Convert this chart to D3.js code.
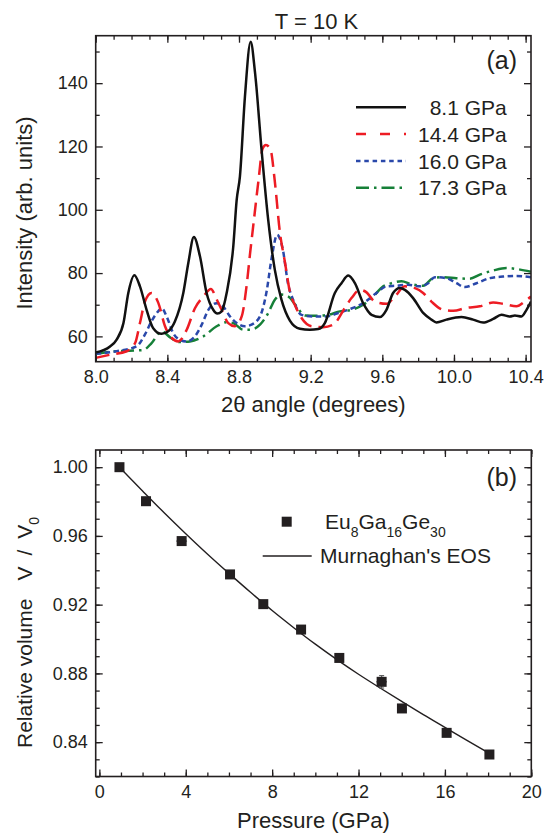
<!DOCTYPE html>
<html>
<head>
<meta charset="utf-8">
<script src="https://cdn.jsdelivr.net/npm/d3@7"></script>
<style>
  html, body { margin: 0; padding: 0; background: #fff; }
  svg { display: block; font-family: "Liberation Sans", Arial, Helvetica, sans-serif; }
  .axis text { font-size: 18px; fill: #231f20; }
  .axis line { stroke: #231f20; stroke-width: 1.3; }
  .axis path { display: none; }
</style>
</head>
<body>
<svg id="fig" width="548" height="836"></svg>
<script>
// ---------- Panel (a): diffraction profiles at T = 10 K ----------
const seriesLabels = ["8.1 GPa", "14.4 GPa", "16.0 GPa", "17.3 GPa"];

const angle81 = [8.000, 8.080, 8.117, 8.155, 8.182, 8.216, 8.247, 8.284, 8.321, 8.368, 8.405, 8.442, 8.489, 8.517, 8.548, 8.582, 8.619, 8.656, 8.679, 8.703, 8.731, 8.768, 8.787, 8.805, 8.833, 8.865, 8.889, 8.926, 8.963, 9.000, 9.037, 9.084, 9.140, 9.195, 9.242, 9.279, 9.335, 9.372, 9.410, 9.447, 9.493, 9.540, 9.586, 9.623, 9.660, 9.698, 9.726, 9.772, 9.828, 9.874, 9.902, 9.958, 10.042, 10.107, 10.163, 10.219, 10.265, 10.312, 10.340, 10.377, 10.405, 10.430];
const intensity81 = [54.9, 56.8, 59.0, 64.2, 73.7, 79.3, 75.8, 68.4, 62.6, 60.8, 61.6, 64.7, 73.7, 83.2, 91.4, 85.3, 73.7, 68.4, 67.2, 67.9, 73.7, 88.4, 103.1, 110.5, 135.7, 153.1, 143.6, 118.9, 96.8, 81.0, 71.6, 65.0, 62.4, 62.1, 62.3, 64.2, 73.7, 76.8, 79.2, 76.8, 70.5, 66.8, 66.1, 68.4, 73.7, 75.3, 74.7, 72.1, 67.4, 65.3, 64.4, 65.3, 66.1, 65.3, 64.4, 65.5, 66.8, 66.3, 66.6, 66.3, 68.4, 71.0];

const angle144 = [8.000, 8.080, 8.173, 8.220, 8.247, 8.275, 8.312, 8.350, 8.387, 8.424, 8.461, 8.508, 8.554, 8.601, 8.643, 8.675, 8.703, 8.740, 8.777, 8.815, 8.843, 8.861, 8.880, 8.908, 8.932, 8.950, 8.976, 9.000, 9.028, 9.056, 9.084, 9.112, 9.149, 9.205, 9.270, 9.326, 9.391, 9.428, 9.475, 9.512, 9.558, 9.623, 9.670, 9.726, 9.763, 9.828, 9.874, 9.939, 9.995, 10.070, 10.144, 10.219, 10.274, 10.349, 10.395, 10.430];
const intensity144 = [53.2, 54.2, 55.3, 57.9, 64.2, 71.0, 73.7, 70.5, 63.2, 59.5, 58.4, 62.1, 68.9, 72.6, 75.0, 71.7, 68.4, 64.2, 63.2, 66.3, 76.3, 85.8, 95.2, 108.9, 119.4, 120.5, 119.0, 108.9, 93.0, 83.6, 74.1, 69.9, 65.8, 63.2, 62.9, 63.7, 69.0, 72.1, 74.7, 73.9, 71.0, 70.3, 72.6, 75.8, 75.6, 73.7, 71.0, 68.4, 68.1, 69.0, 69.5, 70.7, 70.3, 69.5, 71.0, 72.6];

const angle160 = [8.000, 8.117, 8.229, 8.275, 8.312, 8.350, 8.368, 8.396, 8.433, 8.470, 8.508, 8.554, 8.592, 8.629, 8.675, 8.712, 8.750, 8.787, 8.833, 8.870, 8.917, 8.954, 8.982, 9.013, 9.043, 9.075, 9.102, 9.149, 9.214, 9.288, 9.354, 9.419, 9.493, 9.567, 9.623, 9.679, 9.744, 9.809, 9.856, 9.893, 9.958, 10.014, 10.060, 10.126, 10.200, 10.274, 10.349, 10.430];
const intensity160 = [54.5, 55.3, 56.9, 60.6, 64.8, 68.0, 68.9, 66.3, 61.0, 58.9, 58.4, 60.0, 63.7, 68.4, 70.5, 69.4, 66.3, 64.2, 63.2, 63.7, 66.3, 74.2, 84.7, 92.1, 87.9, 76.3, 71.6, 66.8, 66.3, 66.3, 67.4, 68.6, 70.5, 73.7, 75.8, 76.0, 76.3, 75.8, 76.8, 78.7, 78.4, 76.8, 75.6, 76.8, 78.4, 78.9, 79.1, 78.7];

const angle173 = [8.000, 8.117, 8.266, 8.312, 8.368, 8.420, 8.470, 8.526, 8.601, 8.675, 8.731, 8.768, 8.824, 8.861, 8.917, 8.963, 9.000, 9.037, 9.075, 9.121, 9.168, 9.233, 9.298, 9.363, 9.428, 9.493, 9.549, 9.605, 9.651, 9.707, 9.763, 9.828, 9.884, 9.939, 10.014, 10.088, 10.144, 10.219, 10.293, 10.349, 10.430];
const intensity173 = [54.5, 55.3, 55.7, 57.9, 61.6, 59.5, 58.2, 58.4, 60.0, 63.2, 64.5, 64.2, 62.1, 62.1, 63.7, 67.4, 71.6, 73.2, 72.6, 69.5, 66.6, 66.5, 66.8, 67.9, 68.4, 70.0, 72.6, 75.8, 76.8, 77.4, 76.5, 76.0, 78.4, 78.7, 78.4, 78.2, 79.5, 80.8, 81.6, 81.3, 80.4];

const angleTicks = [8.0, 8.4, 8.8, 9.2, 9.6, 10.0, 10.4];
const intensityTicks = [60, 80, 100, 120, 140];

// ---------- Panel (b): compression curve ----------
const pressure = [0.93, 2.16, 3.81, 6.05, 7.59, 9.34, 11.11, 13.07, 14.01, 16.08, 18.06];
const relVolume = [1.000, 0.9802, 0.9570, 0.9376, 0.9203, 0.9055, 0.8890, 0.8751, 0.8596, 0.8454, 0.8328];
const pressureErr = [0, 0, 0.25, 0, 0, 0, 0, 0.25, 0, 0, 0];
const volumeErr = [0, 0, 0, 0, 0, 0, 0, 0.0036, 0, 0, 0];

const eosPressure = [0.93, 2, 3, 4, 5, 6, 7, 8, 9, 10, 11, 12, 13, 14, 15, 16, 17, 18.06];
const eosVolume = [1.000, 0.9862, 0.9735, 0.9613, 0.9495, 0.9382, 0.9272, 0.9166, 0.9066, 0.8970, 0.8880, 0.8795, 0.8715, 0.8637, 0.8560, 0.8486, 0.8412, 0.8335];

const pressureTicks = [0, 4, 8, 12, 16, 20];
const volumeTicks = [0.84, 0.88, 0.92, 0.96, 1.00];

// ---------- drawing ----------
const ink = "#231f20";
const svg = d3.select("#fig");

function frameAxes(g, x, y, w, h, xMajor, xMinor, yMajor, yMinor, xFmt, yFmt) {
  const big = 7, small = 4;
  g.append("g").attr("class", "axis").attr("transform", `translate(0,${h})`)
    .call(d3.axisBottom(x).tickValues(xMinor).tickSize(-small).tickFormat(""));
  g.append("g").attr("class", "axis").attr("transform", `translate(0,${h})`)
    .call(d3.axisBottom(x).tickValues(xMajor).tickSize(-big).tickPadding(9).tickFormat(xFmt));
  g.append("g").attr("class", "axis")
    .call(d3.axisTop(x).tickValues(xMinor).tickSize(-small).tickFormat(""));
  g.append("g").attr("class", "axis")
    .call(d3.axisTop(x).tickValues(xMajor).tickSize(-big).tickFormat(""));
  g.append("g").attr("class", "axis")
    .call(d3.axisLeft(y).tickValues(yMinor).tickSize(-small).tickFormat(""));
  g.append("g").attr("class", "axis")
    .call(d3.axisLeft(y).tickValues(yMajor).tickSize(-big).tickPadding(8).tickFormat(yFmt));
  g.append("g").attr("class", "axis").attr("transform", `translate(${w},0)`)
    .call(d3.axisRight(y).tickValues(yMinor).tickSize(-small).tickFormat(""));
  g.append("g").attr("class", "axis").attr("transform", `translate(${w},0)`)
    .call(d3.axisRight(y).tickValues(yMajor).tickSize(-big).tickFormat(""));
  g.append("rect").attr("width", w).attr("height", h)
    .attr("fill", "none").attr("stroke", ink).attr("stroke-width", 1.6);
}

// ----- panel (a) -----
const A = { left: 95.7, top: 35.7, right: 531, bottom: 361.7 };
const aw = A.right - A.left, ah = A.bottom - A.top;
const xa = d3.scaleLinear().domain([8.0, 10.43]).range([0, aw]);
const ya = d3.scaleLinear().domain([52, 155]).range([ah, 0]);
const ga = svg.append("g").attr("transform", `translate(${A.left},${A.top})`);

ga.append("clipPath").attr("id", "clipA").append("rect").attr("width", aw).attr("height", ah);

const profiles = [
  { label: seriesLabels[0], xs: angle81, ys: intensity81, color: "#111111", dash: null, legendDash: null },
  { label: seriesLabels[1], xs: angle144, ys: intensity144, color: "#ed1c24", dash: "14,7", legendDash: "10,14" },
  { label: seriesLabels[2], xs: angle160, ys: intensity160, color: "#2a48aa", dash: "5.5,3.5", legendDash: "4.5,3.8" },
  { label: seriesLabels[3], xs: angle173, ys: intensity173, color: "#168038", dash: "13,5,2.5,5", legendDash: "13,5,2.5,5" }
];

const lineA = d3.line().curve(d3.curveMonotoneX)
  .x(d => xa(d[0])).y(d => ya(d[1]));

const plotA = ga.append("g").attr("clip-path", "url(#clipA)");
profiles.slice().reverse().forEach(s => {
  plotA.append("path")
    .datum(d3.zip(s.xs, s.ys))
    .attr("d", lineA)
    .attr("fill", "none")
    .attr("stroke", s.color)
    .attr("stroke-width", 2.5)
    .attr("stroke-dasharray", s.dash);
});

frameAxes(ga, xa, ya, aw, ah,
  angleTicks, d3.range(80, 105).map(v => v / 10),
  intensityTicks, [70, 90, 110, 130, 150],
  d3.format(".1f"), d3.format("d"));

// legend (a)
const legA = svg.append("g");
profiles.forEach((s, i) => {
  const cy = 107.3 + i * 26.8;
  legA.append("line").attr("x1", 356).attr("x2", 406).attr("y1", cy).attr("y2", cy)
    .attr("stroke", s.color).attr("stroke-width", 2.5)
    .attr("stroke-dasharray", s.legendDash);
  legA.append("text").attr("x", 506.7).attr("y", cy + 7.6)
    .attr("text-anchor", "end").attr("font-size", 21).attr("fill", ink)
    .text(s.label);
});

svg.append("text").attr("x", 517).attr("y", 68.5).attr("text-anchor", "end")
  .attr("font-size", 25).attr("fill", ink).text("(a)");
svg.append("text").attr("x", 316.5).attr("y", 28.5).attr("text-anchor", "middle")
  .attr("font-size", 22).attr("fill", ink).text("T = 10 K");
svg.append("text").attr("x", (A.left + A.right) / 2).attr("y", 411.5).attr("text-anchor", "middle")
  .attr("font-size", 22).attr("fill", ink).text("2θ angle (degrees)");
svg.append("text").attr("transform", "translate(31.5,213) rotate(-90)").attr("text-anchor", "middle")
  .attr("font-size", 22).attr("fill", ink).text("Intensity (arb. units)");

// ----- panel (b) -----
const B = { left: 95.7, top: 450, right: 531.3, bottom: 776.5 };
const bw = B.right - B.left, bh = B.bottom - B.top;
const xb = d3.scaleLinear().domain([-0.17, 20]).range([0, bw]);
const yb = d3.scaleLinear().domain([0.82, 1.01]).range([bh, 0]);
const gb = svg.append("g").attr("transform", `translate(${B.left},${B.top})`);

const lineB = d3.line().curve(d3.curveMonotoneX)
  .x(d => xb(d[0])).y(d => yb(d[1]));
gb.append("path").datum(d3.zip(eosPressure, eosVolume))
  .attr("d", lineB).attr("fill", "none").attr("stroke", ink).attr("stroke-width", 1.4);

const pts = d3.zip(pressure, relVolume, pressureErr, volumeErr);
const errG = gb.append("g").attr("stroke", "#555").attr("stroke-width", 1.1);
pts.filter(d => d[2] > 0).forEach(d => {
  errG.append("line").attr("x1", xb(d[0] - d[2])).attr("x2", xb(d[0] + d[2]))
    .attr("y1", yb(d[1])).attr("y2", yb(d[1]));
});
pts.filter(d => d[3] > 0).forEach(d => {
  errG.append("line").attr("x1", xb(d[0])).attr("x2", xb(d[0]))
    .attr("y1", yb(d[1] - d[3])).attr("y2", yb(d[1] + d[3]));
  [d[1] - d[3], d[1] + d[3]].forEach(v => errG.append("line")
    .attr("x1", xb(d[0]) - 2.5).attr("x2", xb(d[0]) + 2.5).attr("y1", yb(v)).attr("y2", yb(v)));
});

const sq = 10;
gb.selectAll("rect.pt").data(pts).enter().append("rect").attr("class", "pt")
  .attr("x", d => xb(d[0]) - sq / 2).attr("y", d => yb(d[1]) - sq / 2)
  .attr("width", sq).attr("height", sq).attr("fill", ink);

frameAxes(gb, xb, yb, bw, bh,
  pressureTicks, d3.range(0, 21),
  volumeTicks, d3.range(82, 101).map(v => v / 100),
  d3.format("d"), d3.format(".2f"));

// legend (b)
svg.append("rect").attr("x", 281.7).attr("y", 516.7).attr("width", 10).attr("height", 10).attr("fill", ink);
const formula = svg.append("text").attr("x", 325).attr("y", 528.5).attr("font-size", 21).attr("fill", ink);
[["Eu", false], ["8", true], ["Ga", false], ["16", true], ["Ge", false], ["30", true]].forEach(([t, sub], i, arr) => {
  const prevSub = i > 0 && arr[i - 1][1];
  formula.append("tspan")
    .attr("font-size", sub ? 14 : 21)
    .attr("dy", sub ? 8 : (prevSub ? -8 : 0))
    .text(t);
});
svg.append("line").attr("x1", 262.7).attr("x2", 311.7).attr("y1", 556).attr("y2", 556)
  .attr("stroke", ink).attr("stroke-width", 1.4);
svg.append("text").attr("x", 320).attr("y", 563).attr("font-size", 21).attr("fill", ink)
  .text("Murnaghan's EOS");

svg.append("text").attr("x", 517).attr("y", 486).attr("text-anchor", "end")
  .attr("font-size", 25).attr("fill", ink).text("(b)");
svg.append("text").attr("x", (B.left + B.right) / 2).attr("y", 828.3).attr("text-anchor", "middle")
  .attr("font-size", 22).attr("fill", ink).text("Pressure (GPa)");

const yTitle = svg.append("text").attr("transform", "translate(31.5,748) rotate(-90)")
  .attr("font-size", 21).attr("fill", ink);
yTitle.append("tspan").text("Relative volume");
yTitle.append("tspan").attr("dx", 18).text("V");
yTitle.append("tspan").attr("dx", 11).text("/");
yTitle.append("tspan").attr("dx", 11).text("V");
yTitle.append("tspan").attr("font-size", 14).attr("dy", 7).text("0");
</script>
</body>
</html>
